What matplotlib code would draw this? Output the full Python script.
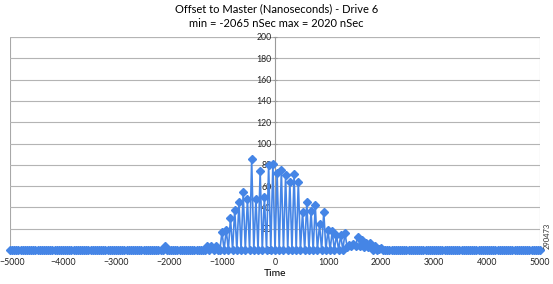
import numpy as np
import matplotlib
matplotlib.use('Agg')
import matplotlib.pyplot as plt
import matplotlib.transforms as mtransforms
from matplotlib.patches import Rectangle

# ==== data ====
BIN_START = -5000
BIN_END = 5000
BIN_STEP = 40

# nonzero bins: time (ns) -> count
peak_times = [-2080, -1280, -1200, -1120,
              -1000, -920, -840, -760, -680, -600, -520, -440, -360, -280,
              -200, -120, -40, 40, 120, 200, 280, 360, 440, 520, 600, 680,
              760, 840, 920, 1000, 1080, 1160, 1240, 1320,
              1360, 1400, 1440, 1480, 1520, 1560, 1600, 1640, 1680, 1720,
              1760, 1800, 1880, 1960, 2000]
peak_counts = [4, 4, 4, 4,
               17, 19, 30, 38, 45, 54, 48, 85, 48, 74,
               50, 80, 81, 72, 75, 70, 64, 71, 64, 36, 45, 37,
               42, 24, 36, 19, 18, 14, 14, 16,
               3, 5, 4, 6, 4, 12.5, 4, 9, 3, 7,
               3, 7, 4, 1, 2]

x_ticks = [-5000, -4000, -3000, -2000, -1000, 0, 1000, 2000, 3000, 4000, 5000]
y_ticks = [0, 20, 40, 60, 80, 100, 120, 140, 160, 180, 200]

title = "Offset to Master (Nanoseconds) - Drive 6\nmin = -2065 nSec max = 2020 nSec"

# build full histogram series
times = np.arange(BIN_START, BIN_END + 1, BIN_STEP)
counts = np.zeros(len(times))
for t, c in zip(peak_times, peak_counts):
    counts[np.searchsorted(times, t)] = c

plt.rcParams['font.family'] = ['Lato', 'DejaVu Sans']

W, H = 553, 284
fig = plt.figure(figsize=(W / 100, H / 100), dpi=100)
ax = fig.add_axes([10 / W, 1 - 250 / H, 530 / W, 213 / H])

blue = '#4585e6'
ax.plot(times, counts, color=blue, lw=1.2, marker='D', ms=4,
        mec=blue, mfc=blue, zorder=3, clip_on=False)

ax.set_xlim(-5000, 5000)
ax.set_ylim(0, 200)
ax.set_xticks(x_ticks)
ax.set_yticks(y_ticks)
ax.grid(axis='y', color='#b4b4b4', lw=0.8)
ax.set_axisbelow(True)

for s in ['top', 'right', 'bottom']:
    ax.spines[s].set_visible(False)
ax.spines['left'].set_position(('data', 0))
ax.spines['left'].set_color('#9a9a9a')
ax.spines['left'].set_zorder(1)
ax.add_patch(Rectangle((0, 0), 1, 1, transform=ax.transAxes, fill=False,
                       ec='#a8a8a8', lw=0.8, zorder=0))

ax.tick_params(axis='y', length=3, direction='inout', color='#9a9a9a',
               labelsize=6.3, pad=1, labelcolor='#222222')
ax.tick_params(axis='x', length=0, labelsize=6.3, pad=5.5, labelcolor='#222222')
for lab in ax.get_yticklabels():
    lab.set_zorder(5)

# keep the leftmost tick label inside the figure
first = ax.get_xticklabels()[0]
first.set_transform(first.get_transform() +
                    mtransforms.ScaledTranslation(2 / 100, 0, fig.dpi_scale_trans))

ax.set_xlabel("Time", fontsize=7.5, va='center')
ax.xaxis.set_label_coords(0.5, -23 / 213)
fig.suptitle(title, fontsize=8, y=0.99, linespacing=1.5)
fig.text(547 / W, 1 - 236 / H, "290473", rotation=90, fontsize=5.5,
         ha='center', va='center', color='#333333')

plt.savefig('out.png', dpi=100)
